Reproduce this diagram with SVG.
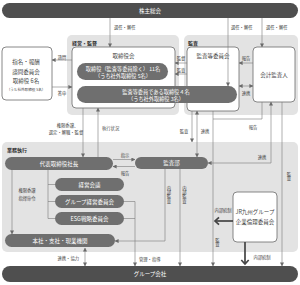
<svg xmlns="http://www.w3.org/2000/svg" width="300" height="285" viewBox="0 0 300 285">
<defs>
<marker id="ah" markerWidth="4" markerHeight="4" refX="3.6" refY="2" orient="auto-start-reverse" markerUnits="userSpaceOnUse"><path d="M0,0 L4,2 L0,4 z" fill="#6a6a6a"/></marker>
<marker id="ahb" markerWidth="8" markerHeight="9" refX="5" refY="4.5" orient="auto" markerUnits="userSpaceOnUse" overflow="visible"><path d="M1,0.8 L5,4.5 L1,8.2" fill="none" stroke="#444" stroke-width="1.7"/></marker>
</defs>
<style>
text{font-family:"Noto Sans CJK JP","Noto Sans",sans-serif;dominant-baseline:central;text-anchor:middle}
.g{fill:#e3e3e3}
.bar{fill:#4f4f4f}
.pill{fill:#6f6f6f}
.box{fill:#fff;stroke:#6a6a6a;stroke-width:0.8}
.wt{fill:#fff;font-size:5.5px}
.wp{fill:#fff;font-size:5.2px}
.t{fill:#444;font-size:5.5px}
.s{fill:#444;font-size:4.3px}
.xs{fill:#444;font-size:3.6px}
.h{fill:#333;font-size:5px;font-weight:bold;text-anchor:start}
.st{text-anchor:start}
.en{text-anchor:end}
.v{writing-mode:vertical-rl;text-anchor:start}
.ln{stroke:#7a7a7a;stroke-width:0.6;fill:none}
.a1{marker-end:url(#ah)}
.a2{marker-start:url(#ah);marker-end:url(#ah)}
.th{stroke:#444;stroke-width:1.7;fill:none;marker-end:url(#ahb)}
</style>

<g id="grp-keiei">
<rect class="g" x="67" y="35" width="112" height="80" rx="5"/>
<text class="h" x="72" y="42">経営・監督</text>
</g>
<g id="grp-kansa">
<rect class="g" x="184" y="35" width="114" height="80" rx="5"/>
<text class="h" x="188" y="42">監査</text>
</g>
<g id="grp-gyomu">
<rect class="g" x="2" y="142" width="296" height="110" rx="5"/>
<text class="h" x="7" y="149">業務執行</text>
</g>

<g id="kabunushi">
<rect class="bar" x="2" y="3" width="296" height="15" rx="7.5"/>
<text class="wt" x="150" y="10.5">株主総会</text>
</g>
<g id="group-kaisha">
<rect class="bar" x="2" y="266" width="296" height="16" rx="8"/>
<text class="wt" x="150" y="274">グループ会社</text>
</g>

<g id="shimei">
<rect class="box" x="2" y="47" width="50" height="53" rx="4"/>
<text class="t" x="26" y="62">指名・報酬</text>
<text class="t" x="26" y="71.5">諮問委員会</text>
<text class="t" x="26" y="80.5">取締役 6名</text>
<text class="xs" x="26" y="89.5">（うち社外取締役 5名）</text>
</g>
<g id="torishimariyakukai">
<rect class="box" x="72" y="47" width="103" height="61" rx="4"/>
<text class="t" x="123.5" y="56">取締役会</text>
</g>
<g id="kansatoiinkai">
<rect class="box" x="187" y="47" width="52" height="64" rx="4"/>
<text class="t" x="213" y="56">監査等委員会</text>
</g>
<g id="torishimariyaku">
<rect class="pill" x="77" y="63" width="91" height="17" rx="8.5"/>
<text class="wp" x="123" y="68">取締役（監査等委員除く） 11名</text>
<text class="wp" x="123" y="75.5">（うち社外取締役 5名）</text>
</g>
<g id="kansatoiin">
<rect class="pill" x="77" y="86" width="160" height="17" rx="8.5"/>
<text class="wp" x="156" y="91.5">監査等委員である取締役４名</text>
<text class="wp" x="156" y="98.5">（うち社外取締役 3名）</text>
</g>
<g id="kaikei">
<rect class="box" x="253" y="47" width="42" height="55" rx="4"/>
<text class="t" x="274" y="74.5">会計監査人</text>
</g>
<g id="daihyo">
<rect class="pill" x="5" y="157" width="108" height="13" rx="6.5"/>
<text class="wt" x="59" y="163.5">代表取締役社長</text>
</g>
<g id="kansabu">
<rect class="pill" x="135" y="157" width="73" height="12" rx="6"/>
<text class="wt" x="171.5" y="163">監査部</text>
</g>
<g id="keieikaigi">
<rect class="pill" x="55" y="178" width="69" height="13" rx="6.5"/>
<text class="wt" x="89.5" y="184.5">経営会議</text>
</g>
<g id="group-keiei">
<rect class="pill" x="55" y="195" width="69" height="13" rx="6.5"/>
<text class="wt" x="89.5" y="201.5">グループ経営委員会</text>
</g>
<g id="esg">
<rect class="pill" x="55" y="212" width="69" height="13" rx="6.5"/>
<text class="wt" x="89.5" y="218.5">ESG戦略委員会</text>
</g>
<g id="honsha">
<rect class="pill" x="5" y="234" width="110" height="13" rx="6.5"/>
<text class="wt" x="60" y="240.5">本社・支社・現業機関</text>
</g>
<g id="rinri">
<rect class="box" x="233" y="192" width="44" height="50" rx="4"/>
<text class="t" x="255" y="212">JR九州グループ</text>
<text class="t" x="255" y="222">企業倫理委員会</text>
</g>

<g id="connectors">
<path class="ln a1" d="M110,18 V47"/>
<path class="ln a1" d="M228,18 V86"/>
<path class="ln a1" d="M262,18 V47"/>
<text class="s st" x="114" y="27">選任・解任</text>
<text class="s st" x="231" y="27">選任・解任</text>
<text class="s st" x="266" y="27">選任・解任</text>

<path class="ln a1" d="M72,60 H52"/>
<text class="s" x="62" y="56.5">諮問</text>
<path class="ln a1" d="M52,87 H72"/>
<text class="s" x="62" y="92.5">答申</text>

<path class="ln a1" d="M187,63 H175"/>
<text class="s" x="181" y="57.5">監督</text>
<path class="ln a1" d="M187,74 H175"/>
<text class="s" x="181" y="69.5">監査</text>
<path class="ln a1" d="M253,63 H239"/>
<text class="s" x="246" y="57.5">報告</text>
<path class="ln a2" d="M239,86 H253"/>
<text class="s" x="246" y="92.5">連携</text>

<path class="ln a1" d="M83,108 V157"/>
<text class="s" x="67.5" y="125">権限委譲、</text>
<text class="s" x="66" y="131.5">選定・解職・監督</text>
<path class="ln a1" d="M98,157 V108"/>
<text class="s st" x="102" y="128">執行状況</text>

<path class="ln a1" d="M113,159.5 H135"/>
<text class="s" x="125" y="154.5">指示</text>
<path class="ln a1" d="M135,166.5 H113"/>
<text class="s" x="125" y="172.5">報告</text>

<path class="ln a1" d="M192,111 V142"/>
<text class="s" x="184" y="131">監査</text>
<path class="ln a2" d="M197,111 V157"/>
<text class="s" x="205" y="131">連携</text>

<path class="ln" d="M262,102 V119 H213"/>
<text class="s" x="253" y="127">報告</text>
<path class="ln a2" d="M271,102 V163 H208"/>
<text class="s" x="262" y="156.5">連携</text>

<path class="ln a1" d="M282,102 V266"/>
<text class="s v" x="289" y="172">監査</text>
<path class="ln a1" d="M213,111 V266"/>
<text class="s v" x="217.5" y="238">監査</text>

<path class="ln a1" d="M165,169 V241 H115"/>
<text class="s v" x="169" y="186">内部監査</text>
<path class="ln a1" d="M180,169 V266"/>
<text class="s v" x="184.5" y="186">内部監査</text>

<path class="ln a1" d="M124,201.5 H135 V266"/>
<path class="ln" d="M124,218.5 H135"/>
<text class="s st" x="139" y="259">管理・指導</text>

<path class="ln" d="M48,170 V218.5 H55 M48,184.5 H55 M48,201.5 H55"/>
<path class="ln a1" d="M12,170 V234"/>
<text class="s" x="27" y="190">権限委譲</text>
<text class="s" x="27" y="197.5">指揮命令</text>

<path class="ln a2" d="M85,248 V266"/>
<text class="s en" x="79" y="258">連携・協力</text>

<path class="th" d="M233,221 H215"/>
<text class="s" x="223" y="210">内部統制</text>
<path class="th" d="M245,242 V264"/>
<text class="s" x="262" y="257">内部統制</text>
</g>
</svg>
